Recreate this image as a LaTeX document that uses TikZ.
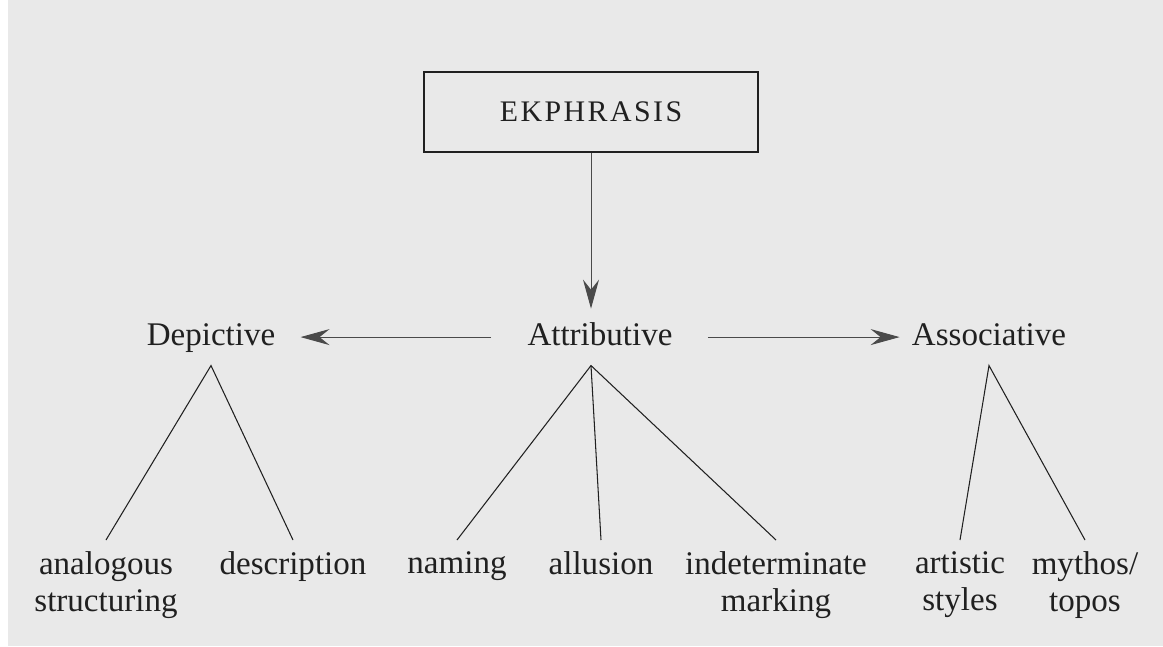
\documentclass[tikz,border=0pt]{standalone}
\usepackage{fontspec}
\setmainfont{Liberation Serif}
\usepackage{tikz}
\usetikzlibrary{arrows.meta,positioning,calc}
\definecolor{ScanGrey}{HTML}{E9E9E9}
\definecolor{InkDark}{HTML}{202020}
\definecolor{InkArrow}{HTML}{4A4A4A}

\begin{document}
\begin{tikzpicture}[x=0.02cm,y=-0.02cm,>={Stealth[length=0.58cm,width=0.32cm,inset=0.2cm]},
  mid/.style={anchor=base,inner xsep=0pt,inner ysep=7.5pt,text height=13pt,text depth=4pt,
    text=InkDark,font=\fontsize{18.8}{21}\selectfont},
  leaf/.style={anchor=north,inner xsep=0pt,inner ysep=6.5pt,align=center,
    text=InkDark,font=\fontsize{18.8}{21}\selectfont},
  leg/.style={InkDark,line width=0.6pt},
  arr/.style={->,InkArrow,line width=0.55pt}]
  \useasboundingbox (0,0) rectangle (1163,646);
  \fill[white] (0,0) rectangle (1163,646);
  \fill[ScanGrey] (8,0) rectangle (1163,646);

  \node[draw=InkDark,line width=0.7pt,minimum width=6.68cm,minimum height=1.6cm,inner sep=0pt,
    text=InkDark,font=\fontsize{17}{20}\selectfont] (ekph) at (591,112)
    {E\kern1.4pt K\kern1.4pt P\kern1.4pt H\kern1.4pt R\kern1.4pt A\kern1.4pt S\kern1.4pt I\kern1.4pt S};

  \node[mid] (dep) at (211,345) {Depictive};
  \node[mid] (attr) at (600,345) {Attributive};
  \node[mid] (assoc) at (989,345) {Associative};

  \node[leaf] (ana) at (106,540) {analogous\\structuring};
  \node[leaf] (des) at (293,540) {description};
  \node[leaf] (nam) at (457,540) {naming};
  \node[leaf] (all) at (601,540) {allusion};
  \node[leaf] (ind) at (776,540) {indeterminate\\marking};
  \node[leaf] (art) at (960,540) {artistic\\styles};
  \node[leaf] (myt) at (1085,540) {mythos/\\topos};

  \draw[arr] (ekph.south) -- (ekph.south |- attr.north);
  \draw[arr,shorten <=0.72cm,shorten >=0.5cm] (attr.west) -- (dep.east);
  \draw[arr,shorten <=0.7cm,shorten >=0.24cm] (attr.east) -- (assoc.west);

  \draw[leg] (ana.north) -- (dep.south) -- (des.north);
  \draw[leg] (nam.north) -- (ekph.south |- attr.south) -- (ind.north);
  \draw[leg] (ekph.south |- attr.south) -- (all.north);
  \draw[leg] (art.north) -- (assoc.south) -- (myt.north);
\end{tikzpicture}
\end{document}
